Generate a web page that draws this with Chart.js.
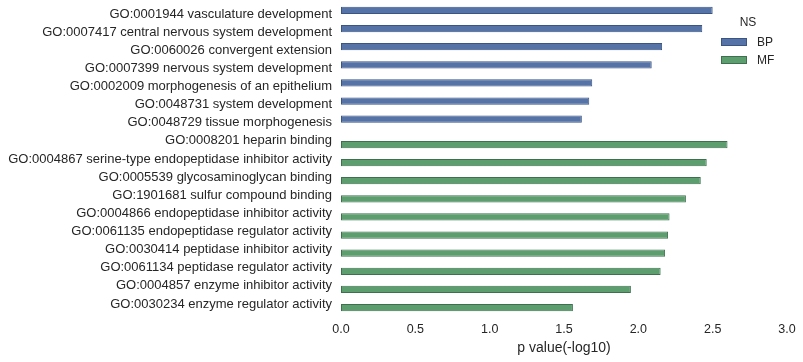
<!DOCTYPE html>
<html>
<head>
<meta charset="utf-8">
<script src="https://cdn.jsdelivr.net/npm/chart.js@4"></script>
<style>
html,body{margin:0;padding:0;background:#fff;}
#wrap{position:relative;width:803px;height:362px;}
</style>
</head>
<body>
<div id="wrap"><canvas id="c" width="803" height="362"></canvas></div>
<script>
const categories = [
  "GO:0001944 vasculature development",
  "GO:0007417 central nervous system development",
  "GO:0060026 convergent extension",
  "GO:0007399 nervous system development",
  "GO:0002009 morphogenesis of an epithelium",
  "GO:0048731 system development",
  "GO:0048729 tissue morphogenesis",
  "GO:0008201 heparin binding",
  "GO:0004867 serine-type endopeptidase inhibitor activity",
  "GO:0005539 glycosaminoglycan binding",
  "GO:1901681 sulfur compound binding",
  "GO:0004866 endopeptidase inhibitor activity",
  "GO:0061135 endopeptidase regulator activity",
  "GO:0030414 peptidase inhibitor activity",
  "GO:0061134 peptidase regulator activity",
  "GO:0004857 enzyme inhibitor activity",
  "GO:0030234 enzyme regulator activity"
];
const bpValues = [2.50, 2.43, 2.16, 2.09, 1.69, 1.67, 1.62];
const mfValues = [2.60, 2.46, 2.42, 2.32, 2.21, 2.20, 2.18, 2.15, 1.95, 1.56];
const seriesNames = ["BP", "MF"];
const legendTitle = "NS";
const xTicks = [0, 0.5, 1.0, 1.5, 2.0, 2.5, 3.0];
const xTitle = "p value(-log10)";

const bpData = categories.map((c, i) => i < bpValues.length ? bpValues[i] : null);
const mfData = categories.map((c, i) => i >= bpValues.length ? mfValues[i - bpValues.length] : null);

const FONT = "'Liberation Sans', Arial, sans-serif";
const TXT = '#262626';

const legendPlugin = {
  id: 'nsLegend',
  afterDraw(chart) {
    const ctx = chart.ctx;
    ctx.save();
    ctx.fillStyle = TXT;
    ctx.font = '12px ' + FONT;
    ctx.textAlign = 'center';
    ctx.textBaseline = 'middle';
    ctx.fillText(legendTitle, 748, 23);
    chart.data.datasets.forEach((ds, i) => {
      const y = 38 + i * 18;
      ctx.fillStyle = ds.backgroundColor;
      ctx.fillRect(721, y, 26, 8);
      ctx.strokeStyle = ds.borderColor;
      ctx.lineWidth = 1;
      ctx.strokeRect(721.5, y + 0.5, 25, 7);
      ctx.fillStyle = TXT;
      ctx.textAlign = 'left';
      ctx.fillText(ds.label, 757, y + 4.5);
    });
    ctx.restore();
  }
};

new Chart(document.getElementById('c'), {
  type: 'bar',
  data: {
    labels: categories,
    datasets: [
      { label: seriesNames[0], data: bpData, backgroundColor: '#5573a7', borderColor: '#3b5583', borderWidth: 1, borderSkipped: false },
      { label: seriesNames[1], data: mfData, backgroundColor: '#5c9e6d', borderColor: '#3e7050', borderWidth: 1, borderSkipped: false }
    ]
  },
  options: {
    indexAxis: 'y',
    responsive: false,
    animation: false,
    devicePixelRatio: 1,
    layout: { padding: { left: 0, right: 16, top: 5, bottom: 0 } },
    datasets: { bar: { categoryPercentage: 0.8, barPercentage: 1.0 } },
    plugins: { legend: { display: false }, tooltip: { enabled: false } },
    scales: {
      x: {
        type: 'linear',
        min: 0, max: 3,
        afterBuildTicks(scale) { scale.ticks = xTicks.map(v => ({ value: v })); },
        afterFit(scale) { scale.height = 49; scale.paddingLeft = 0; scale.paddingRight = 0; },
        grid: { display: false, drawTicks: false },
        border: { display: false },
        ticks: { padding: 9, color: TXT, font: { family: FONT, size: 12.5 }, callback: v => Number(v).toFixed(1) },
        title: { display: true, text: xTitle, color: TXT, font: { family: FONT, size: 14 }, padding: { top: 0, bottom: 5 } }
      },
      y: {
        type: 'category',
        offset: true,
        afterFit(scale) { scale.width = 341; scale.paddingTop = 0; scale.paddingBottom = 0; },
        grid: { display: false, drawTicks: false },
        border: { display: false },
        ticks: { padding: 9, color: TXT, font: { family: FONT, size: 13 }, autoSkip: false }
      }
    }
  },
  plugins: [legendPlugin]
});
</script>
</body>
</html>
